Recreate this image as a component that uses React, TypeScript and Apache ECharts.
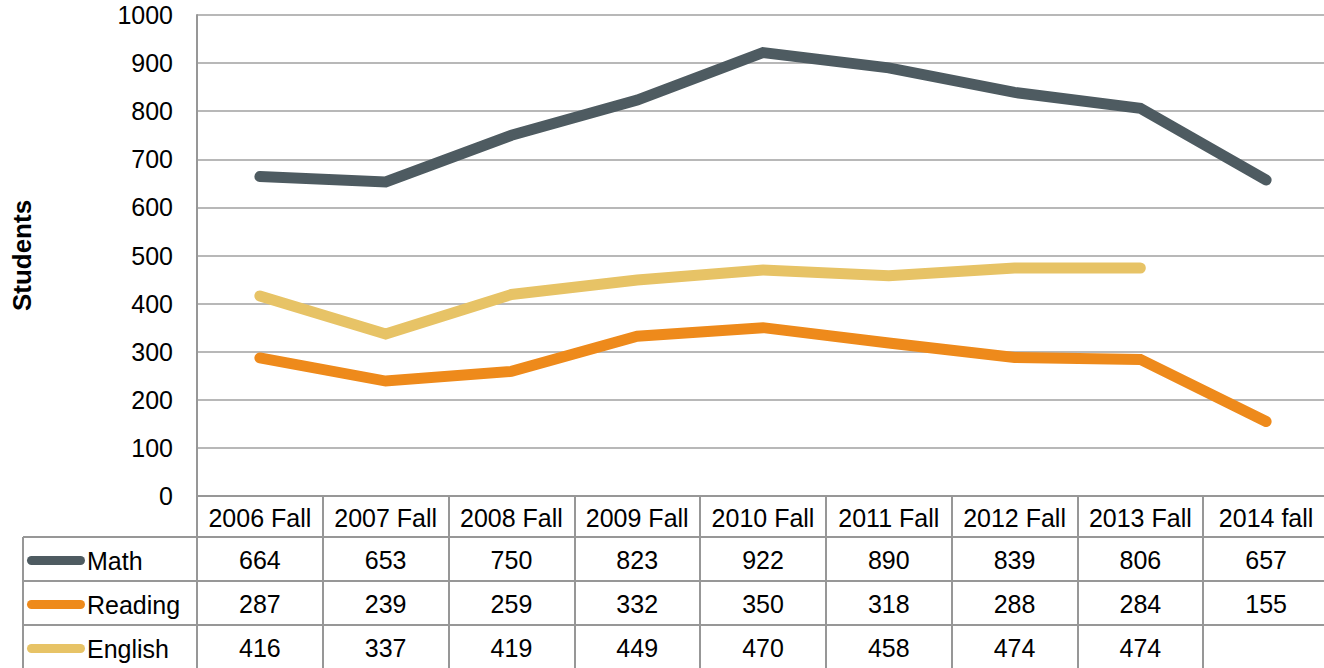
import React, { useEffect, useRef } from "react";
import * as echarts from "echarts";

const categories = ["2006 Fall", "2007 Fall", "2008 Fall", "2009 Fall", "2010 Fall", "2011 Fall", "2012 Fall", "2013 Fall", "2014 fall"];
const mathValues = [664, 653, 750, 823, 922, 890, 839, 806, 657];
const readingValues = [287, 239, 259, 332, 350, 318, 288, 284, 155];
const englishValues: (number | null)[] = [416, 337, 419, 449, 470, 458, 474, 474, null];
const seriesNames = ["Math", "Reading", "English"];
const seriesColors = ["#4E5B61", "#EE8A1B", "#E7C366"];
const yMin = 0;
const yMax = 1000;
const yInterval = 100;

const W = 1324;
const H = 668;
const FONT = "'Liberation Sans', Arial, sans-serif";
const FS = 25;
const GRID_LEFT = 197;
const GRID_TOP = 15;
const GRID_BOTTOM = 172;
const GRID_RIGHT = -5;
const AXIS_Y = H - GRID_BOTTOM;
const HEADER_H = 41;
const ROW_H = 44;
const TABLE_LEFT = 23;
const LINE_COLOR = "#979797";

const toLabels = (vals: (number | null)[]) => categories.map((_, i) => (vals[i] == null ? "" : String(vals[i])));

export default function App() {
  const ref = useRef<HTMLDivElement>(null);
  useEffect(() => {
    if (!ref.current) return;
    const chart = echarts.init(ref.current, undefined, { renderer: "svg" });
    const allValues = [mathValues, readingValues, englishValues];
    const labelStyle = { interval: 0, margin: 9, fontSize: FS, lineHeight: 25, color: "#000", fontFamily: FONT };
    const rowAxes = allValues.map((vals, r) => ({
      type: "category",
      gridIndex: 0,
      position: "bottom",
      offset: 42 + r * ROW_H,
      data: toLabels(vals),
      boundaryGap: true,
      axisLine: { show: false },
      axisTick: { show: false },
      splitLine: { show: false },
      axisLabel: labelStyle,
    }));
    const rowLines = [0, 1, 2].map((r) => ({
      type: "line",
      silent: true,
      shape: { x1: TABLE_LEFT, y1: AXIS_Y + HEADER_H + r * ROW_H, x2: W + 10, y2: AXIS_Y + HEADER_H + r * ROW_H },
      style: { stroke: LINE_COLOR, lineWidth: 2 },
    }));
    const option: any = {
      animation: false,
      backgroundColor: "#fff",
      textStyle: { fontFamily: FONT },
      grid: {
        left: GRID_LEFT,
        right: GRID_RIGHT,
        top: GRID_TOP,
        bottom: GRID_BOTTOM,
        containLabel: false,
        outerBoundsMode: "none",
      },
      legend: {
        orient: "vertical",
        left: 27,
        top: AXIS_Y + HEADER_H + 11,
        padding: 0,
        itemGap: 19,
        itemWidth: 58,
        itemHeight: 9,
        data: seriesNames.map((n, i) => ({
          name: n,
          icon: "path://M4.5,0 L53.5,0 A4.5,4.5 0 0 1 53.5,9 L4.5,9 A4.5,4.5 0 0 1 4.5,0 Z",
          itemStyle: { color: seriesColors[i] },
        })),
        textStyle: { fontSize: FS, lineHeight: 25, color: "#000", fontFamily: FONT, padding: [0, 0, 0, -3] },
        selectedMode: false,
      },
      xAxis: [
        {
          type: "category",
          data: categories,
          boundaryGap: true,
          axisLine: { show: true, lineStyle: { color: LINE_COLOR, width: 2 } },
          axisTick: { show: true, interval: 0, length: GRID_BOTTOM, lineStyle: { color: LINE_COLOR, width: 2 } },
          axisLabel: labelStyle,
          splitLine: { show: false },
        },
        ...rowAxes,
      ],
      yAxis: {
        type: "value",
        min: yMin,
        max: yMax,
        interval: yInterval,
        name: "Students",
        nameLocation: "middle",
        nameRotate: 90,
        nameGap: 162,
        nameTextStyle: { fontSize: 26, fontWeight: "bold", color: "#000", fontFamily: FONT },
        axisLine: { show: true, lineStyle: { color: LINE_COLOR, width: 2 } },
        axisTick: { show: false },
        axisLabel: { fontSize: FS, color: "#000", margin: 24, fontFamily: FONT, formatter: (v: number) => String(v) },
        splitLine: { show: true, lineStyle: { color: "#a0a0a0", width: 1.5 } },
      },
      series: allValues.map((vals, i) => ({
        name: seriesNames[i],
        type: "line",
        data: vals,
        xAxisIndex: 0,
        yAxisIndex: 0,
        showSymbol: false,
        symbol: "none",
        connectNulls: false,
        lineStyle: { color: seriesColors[i], width: 11, cap: "round", join: "miter" },
        itemStyle: { color: seriesColors[i] },
      })),
      graphic: [
        ...rowLines,
        {
          type: "line",
          silent: true,
          shape: { x1: TABLE_LEFT, y1: AXIS_Y + HEADER_H, x2: TABLE_LEFT, y2: H + 10 },
          style: { stroke: LINE_COLOR, lineWidth: 2 },
        },
      ],
    };
    chart.setOption(option);
    return () => chart.dispose();
  }, []);
  return <div ref={ref} style={{ position: "absolute", left: 0, top: 0, width: W, height: H }} />;
}
